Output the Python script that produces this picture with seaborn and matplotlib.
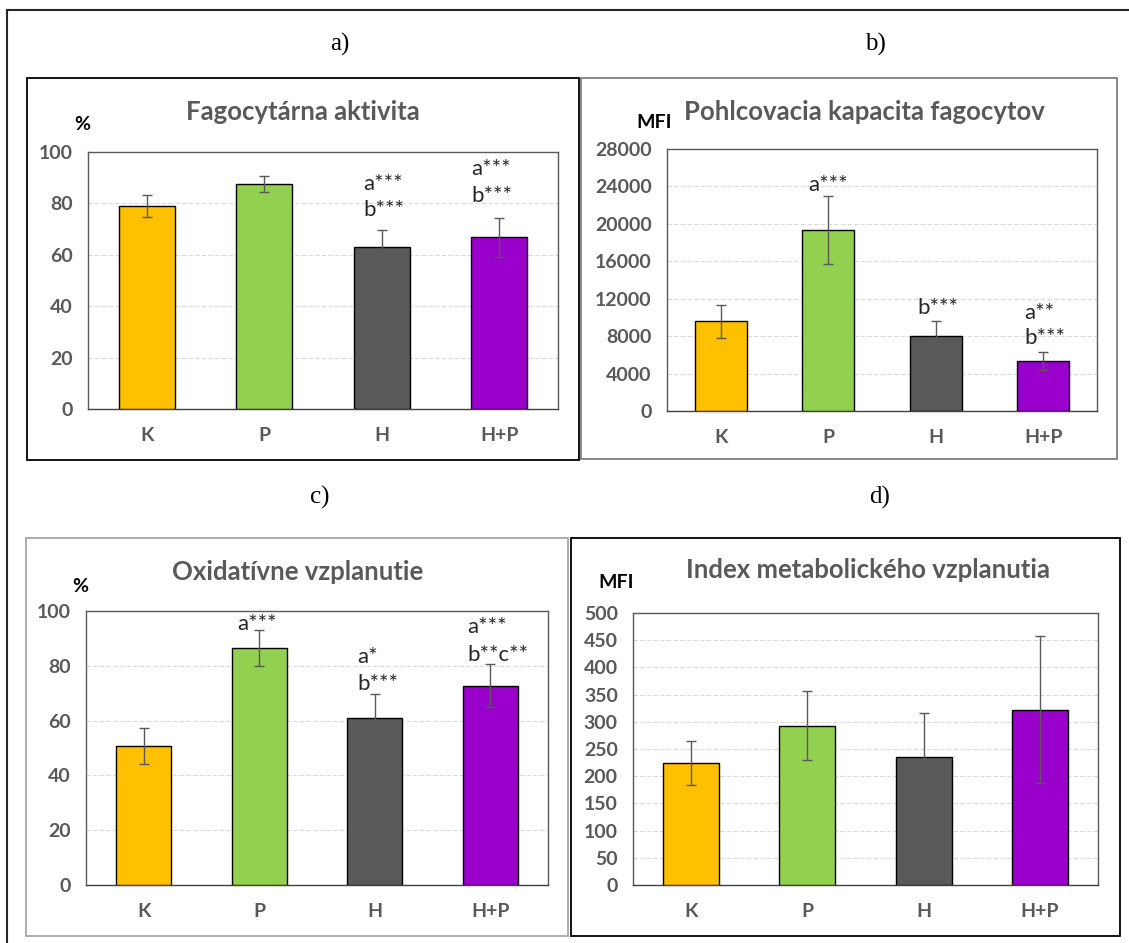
import numpy as np
import pandas as pd
import matplotlib
matplotlib.use("Agg")
import matplotlib.pyplot as plt
import seaborn as sns
from matplotlib.lines import Line2D

# ---------------- data ----------------
groups = ["K", "P", "H", "H+P"]
colors = ["#FFC000", "#92D050", "#595959", "#9900CC"]

fag_akt = [79.0, 87.5, 63.0, 66.8]
fag_akt_err = [4.4, 3.0, 6.6, 7.6]

pohl_kap = [9600, 19350, 8000, 5350]
pohl_kap_err = [1750, 3600, 1650, 1000]

oxid = [50.7, 86.6, 61.0, 72.8]
oxid_err = [6.7, 6.5, 8.7, 8.0]

index_mb = [224, 293, 235, 322]
index_mb_err = [40, 63, 82, 135]

titles = ["Fagocytárna aktivita", "Pohlcovacia kapacita fagocytov",
          "Oxidatívne vzplanutie", "Index metabolického vzplanutia"]
units = ["%", "MFI", "%", "MFI"]
panel_letters = ["a)", "b)", "c)", "d)"]
ymax = [100, 28000, 100, 500]
ystep = [20, 4000, 20, 50]

# significance annotations: (category index, x offset, text, y value)
annot_a = [(2, -0.16, "a***", 87.7), (2, -0.16, "b***", 77.4),
           (3, -0.24, "a***", 93.5), (3, -0.24, "b***", 82.8)]
annot_b = [(1, -0.19, "a***", 24150), (2, -0.17, "b***", 10970),
           (3, -0.18, "a**", 10510), (3, -0.18, "b***", 7766)]
annot_c = [(1, -0.19, "a***", 95.3), (2, -0.15, "a*", 83.1), (2, -0.15, "b***", 73.4),
           (3, -0.20, "a***", 94.0), (3, -0.20, "b**c**", 84.0)]
annot_d = []

values = [fag_akt, pohl_kap, oxid, index_mb]
errors = [fag_akt_err, pohl_kap_err, oxid_err, index_mb_err]
annots = [annot_a, annot_b, annot_c, annot_d]

# ---------------- layout (pixels) ----------------
W, H = 1129, 943
frames = [(88, 152, 558, 409), (667, 149, 1097, 411),
          (86, 611, 548, 885), (633, 613, 1098, 885)]
boxes = [(27, 78, 579, 460), (581, 78, 1117, 459),
         (26, 538, 568, 936), (571, 538, 1120, 936)]
box_colors = ["black", "#7F7F7F", "#A6A6A6", "black"]
title_pos = [(303, 112), (864, 112), (298, 572), (868, 570)]
unit_pos = [(82, 125), (654, 123), (80, 587), (616, 583)]
letter_pos = [(340, 44), (875, 44), (320, 497), (880, 497)]

sns.set_theme(style="white")
plt.rcParams["font.family"] = ["Lato", "DejaVu Sans"]

fig = plt.figure(figsize=(W / 100, H / 100), dpi=100)
fig.patch.set_facecolor("white")


def fx(x):
    return x / W


def fy(y):
    return 1 - y / H


# outer border
fig.add_artist(Line2D([fx(7), fx(7)], [fy(10), fy(943)], color="#262626", lw=1.5))
fig.add_artist(Line2D([fx(7), fx(1129)], [fy(10), fy(10)], color="#262626", lw=1.5))

for i in range(4):
    # panel box
    x0, y0, x1, y1 = boxes[i]
    fig.add_artist(plt.Rectangle((fx(x0), fy(y1)), fx(x1) - fx(x0), fy(y0) - fy(y1),
                                 fill=False, edgecolor=box_colors[i], lw=1.3,
                                 transform=fig.transFigure))
    l, t, r, b = frames[i]
    ax = fig.add_axes([fx(l), fy(b), fx(r) - fx(l), fy(t) - fy(b)])
    df = pd.DataFrame({"group": groups, "value": values[i]})
    sns.barplot(data=df, x="group", y="value", hue="group", palette=colors,
                order=groups, hue_order=groups, width=0.48, edgecolor="black",
                linewidth=1.0, errorbar=None, legend=False, ax=ax, zorder=3,
                saturation=1)
    ax.errorbar(np.arange(len(groups)), values[i], yerr=errors[i], fmt="none",
                ecolor="#595959", elinewidth=1.0, capsize=3.5, capthick=1.0, zorder=4)
    ax.set_xlim(-0.5, 3.5)
    ax.set_ylim(0, ymax[i])
    ticks = np.arange(0, ymax[i] + 1, ystep[i])
    ax.set_yticks(ticks)
    ax.set_yticklabels([f"{int(t)}" for t in ticks])
    ax.set_xlabel("")
    ax.set_ylabel("")
    for t in ticks[1:-1]:
        ax.axhline(t, color="#D9D9D9", lw=0.8, ls=(0, (4, 2)), zorder=1)
    for s in ax.spines.values():
        s.set_visible(True)
        s.set_color("#595959")
        s.set_linewidth(1.0)
    ax.spines["bottom"].set_color("#404040")
    ax.tick_params(axis="both", length=0, colors="#595959", labelsize=14)
    ax.tick_params(axis="y", pad=11)
    ax.tick_params(axis="x", pad=13)
    for lab in ax.get_xticklabels() + ax.get_yticklabels():
        lab.set_fontweight("bold")
        lab.set_color("#595959")
    for (ci, off, txt, yv) in annots[i]:
        ax.text(ci + off, yv, txt, ha="left", va="center", fontsize=16,
                color="#262626", zorder=5)
    # title, unit, letter
    fig.text(fx(title_pos[i][0]), fy(title_pos[i][1]), titles[i], ha="center",
             va="center", fontsize=18.5, fontweight="bold", color="#595959")
    fig.text(fx(unit_pos[i][0]), fy(unit_pos[i][1]), units[i], ha="center",
             va="center", fontsize=14, fontweight="bold", color="black")
    fig.text(fx(letter_pos[i][0]), fy(letter_pos[i][1]), panel_letters[i], ha="center",
             va="center", fontsize=18, color="black",
             family=["Liberation Serif", "DejaVu Serif"])

fig.savefig("out.png", dpi=100)
